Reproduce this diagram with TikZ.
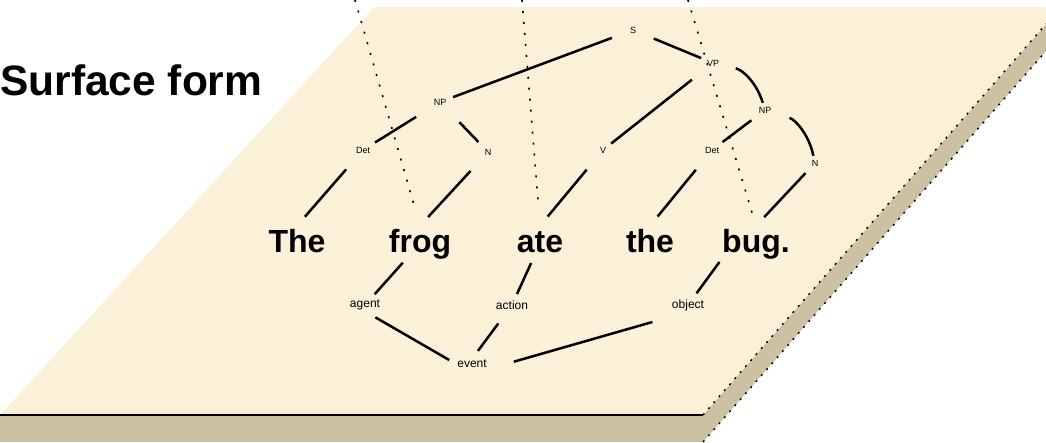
\documentclass[tikz,border=0pt]{standalone}
\usepackage{fontspec}
\setmainfont{Liberation Sans}

\definecolor{slabtop}{RGB}{251,241,217}
\definecolor{slabside}{RGB}{204,194,163}

\begin{document}
\begin{tikzpicture}[x=1pt, y=-1pt,
    word/.style={font=\fontsize{32}{32}\selectfont\bfseries, anchor=base, inner sep=2pt, text height=24pt, text depth=7pt},
    cat/.style={font=\fontsize{9}{9}\selectfont, inner sep=1pt},
    role/.style={font=\fontsize{12}{12}\selectfont, inner sep=1pt},
    branch/.style={line width=2.5pt},
    link/.style={line width=1.6pt, dash pattern=on 2pt off 9pt},
    rim/.style={line width=1.4pt, dash pattern=on 2pt off 6pt}]
    \useasboundingbox (0,0) rectangle (1046,442);

    % Define the corners of the slab
    \coordinate (A) at (0,415);
    \coordinate (B) at (703,415);
    \coordinate (C) at (1061,7);
    \coordinate (D) at (374,7);
    \coordinate (E) at (703,442);
    \coordinate (F) at (1061,34);
    \coordinate (G) at (0,442);

    % Draw the faces of the slab
    \fill[slabside] (A) -- (B) -- (E) -- (G) -- cycle; % front face
    \fill[slabside] (B) -- (C) -- (F) -- (E) -- cycle; % right face
    \fill[slabtop] (A) -- (B) -- (C) -- (D) -- cycle; % top face
    \draw[line width=2.8pt] (A) -- (B);
    \draw[rim] (B) -- (C);
    \draw[rim] (E) -- (F);

    \node at (0,95) [anchor=base west, inner sep=0pt, font=\fontsize{42.5}{42.5}\selectfont\bfseries] (title) {Surface form};

    % The sentence
    \node[word] (w1) at (297,252) {The};
    \node[word] (w2) at (420,252) {frog};
    \node[word] (w3) at (540,252) {ate};
    \node[word] (w4) at (650,252) {the};
    \node[word] (w5) at (756,252) {bug.};

    % Parse tree above the words
    \node[cat] (S) at (633,30) {S};
    \node[cat] (VP) at (713,63) {VP};
    \node[cat] (NPa) at (440,102) {NP};
    \node[cat] (DetA) at (363,150) {Det};
    \node[cat] (NA) at (488,152) {N};
    \node[cat] (V) at (603,150) {V};
    \node[cat] (NPb) at (765,110) {NP};
    \node[cat] (DetB) at (712,150) {Det};
    \node[cat] (NB) at (815,163) {N};

    \draw[branch, shorten <=18pt, shorten >=6pt] (S) -- (NPa);
    \draw[branch, shorten <=18pt, shorten >=5pt] (S) -- (VP);
    \draw[branch, shorten <=20pt, shorten >=6pt] (NPa) -- (DetA);
    \draw[branch, shorten <=22pt, shorten >=8pt] (NPa) -- (NA);
    \draw[branch, shorten <=20pt, shorten >=5pt] (VP) -- (V);
    \draw[branch, shorten <=16pt, shorten >=3pt] (VP) to[bend left=30] (NPb);
    \draw[branch, shorten <=10pt, shorten >=6pt] (NPb) -- (DetB);
    \draw[branch, shorten <=18pt, shorten >=3pt] (NPb) to[bend left=30] (NB);
    \draw[branch, shorten <=20pt, shorten >=12pt] (DetA) -- (w1.north);
    \draw[branch, shorten <=20pt, shorten >=12pt] (NA) -- (w2.north);
    \draw[branch, shorten <=20pt, shorten >=12pt] (V) -- (w3.north);
    \draw[branch, shorten <=20pt, shorten >=12pt] (DetB) -- (w4.north);
    \draw[branch, shorten <=8pt, shorten >=12pt] (NB) -- (w5.north);

    % Links up to the plane above
    \coordinate (u1) at (355,0);
    \coordinate (u2) at (522,0);
    \coordinate (u3) at (688,0);
    \draw[link, shorten >=22pt] (u1) -- (w2.north);
    \draw[link, shorten >=22pt] (u2) -- (w3.north);
    \draw[link, shorten >=12pt] (u3) -- (w5.north);

    % Roles below the words
    \node[role] (agent) at (365,305) {agent};
    \node[role] (action) at (512,305) {action};
    \node[role] (object) at (688,305) {object};
    \node[role] (event) at (472,364) {event};

    \draw[branch, shorten <=2pt, shorten >=6pt] (w2) -- (agent);
    \draw[branch, shorten <=2pt, shorten >=6pt] (w3) -- (action);
    \draw[branch, shorten <=1pt, shorten >=6pt] (w5.south west) -- (object);
    \draw[branch, shorten <=12pt, shorten >=8pt] (agent.south) -- (event.west);
    \draw[branch, shorten <=16pt, shorten >=10pt] (action) -- (event.north);
    \draw[branch, shorten <=37pt, shorten >=27pt] (object.south) -- (event.south east);
\end{tikzpicture}
\end{document}
